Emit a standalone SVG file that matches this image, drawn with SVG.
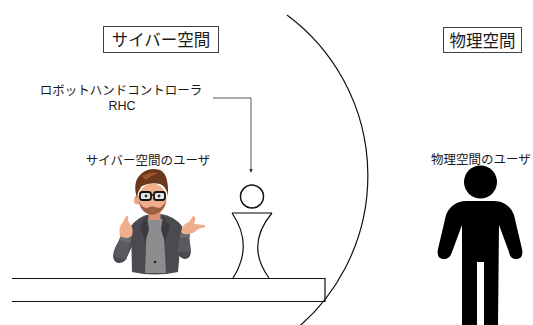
<svg xmlns="http://www.w3.org/2000/svg" width="533" height="325" viewBox="0 0 533 325">
  <defs>
    <marker id="arrow" viewBox="0 0 6 6" refX="5" refY="3" markerWidth="4" markerHeight="4" orient="auto">
      <path d="M0,0 L6,3 L0,6 Z" fill="#333"/>
    </marker>
  </defs>
  <style>
    .lbl { font-family: "Noto Sans CJK JP", "Liberation Sans", sans-serif; fill: #1a1a1a; text-anchor: middle; }
    .latin { font-family: "Liberation Sans", "Noto Sans CJK JP", sans-serif; }
    .big { font-size: 16.5px; }
    .small { font-size: 12.5px; }
    .frame { fill: #fff; stroke: #404040; stroke-width: 1; }
    .ln { fill: none; stroke: #111; stroke-width: 1.2; }
    .skin { fill: #efae8c; }
    .jacket { fill: #4a4a4f; }
  </style>
  <rect width="533" height="325" fill="#fff"/>

  <!-- boundary between the two spaces -->
  <g id="boundary">
    <path class="ln" d="M 287 15 A 200 200 0 0 1 290 334"/>
  </g>

  <!-- space titles -->
  <g id="cyber-space-title">
    <rect class="frame" x="103.5" y="26.5" width="115" height="26"/>
    <text class="lbl big" x="161" y="46">サイバー空間</text>
  </g>
  <g id="physical-space-title">
    <rect class="frame" x="443.5" y="27.5" width="78" height="25"/>
    <text class="lbl big" x="482.5" y="46.5">物理空間</text>
  </g>

  <!-- desk -->
  <g id="desk">
    <path class="ln" d="M 12 278.5 H 325 V 301.5 H 12"/>
  </g>

  <!-- robot hand controller -->
  <g id="rhc">
    <text class="lbl small" x="121" y="94.5">ロボットハンドコントローラ</text>
    <text class="lbl latin small" x="122" y="110">RHC</text>
    <circle cx="252" cy="196.5" r="11.5" fill="#fff" stroke="#111" stroke-width="1.5"/>
    <line x1="232" y1="213" x2="272" y2="213" stroke="#555" stroke-width="1.6"/>
    <path class="ln" d="M 232 213 Q 254 245 233 278"/>
    <path class="ln" d="M 272 213 Q 245 245 269 278"/>
  </g>

  <!-- cyber space user (avatar) -->
  <g id="cyber-user">
    <text class="lbl small" x="148" y="164.5">サイバー空間のユーザ</text>
    <!-- torso -->
    <path class="jacket" d="M 131 226 Q 139 216 150 214 L 161 214 Q 174 216 182 226 L 178 272 Q 155 277 132 272 Z"/>
    <path fill="#8d8d8f" d="M 147 219 L 163 219 L 166 273 L 145 273 Z"/>
    <path fill="#3b3b40" d="M 147 216 L 140 226 L 145 242 L 149 230 Z"/>
    <path fill="#3b3b40" d="M 163 216 L 170 226 L 165 242 L 161 230 Z"/>
    <circle cx="155" cy="262" r="1.3" fill="#222"/>
    <!-- left arm and hand -->
    <path class="jacket" d="M 133 225 Q 121 234 115 248 Q 110 260 118 263 Q 125 264 128 255 L 133 244 Z"/>
    <path fill="#5a5a60" d="M 113 256 L 120 238 L 131 241 L 126 260 Z"/>
    <path fill="#6b6b70" d="M 119 240 L 121 235 L 131 238 L 130 243 Z"/>
    <path class="skin" d="M 120 236 Q 118 226 123 222 L 126 216 Q 129 215 128 221 L 130 224 Q 134 228 132 236 Q 127 240 120 236 Z"/>
    <!-- right arm and hand -->
    <path class="jacket" d="M 179 224 Q 187 232 190 246 Q 193 258 185 259 Q 178 258 176 248 Z"/>
    <path fill="#5a5a60" d="M 177 252 L 180 236 L 189 234 L 191 252 Z"/>
    <path fill="#6b6b70" d="M 180 238 L 181 232 L 190 231 L 190 237 Z"/>
    <path class="skin" d="M 181 232 Q 182 224 189 222 L 193 216 Q 196 216 195 221 L 194 224 L 205 225 Q 206 228 201 228 L 197 230 Q 193 234 188 234 Q 183 235 181 232 Z"/>
    <!-- neck and head -->
    <rect x="148.5" y="206" width="12" height="14" fill="#d89173"/>
    <ellipse cx="137.5" cy="200" rx="3.5" ry="4.5" fill="#e8a383"/>
    <ellipse cx="152.5" cy="199" rx="14" ry="15.5" class="skin"/>
    <path fill="#8c4f32" opacity="0.85" d="M 139 200 Q 140 213 152 215 Q 165 213 166 200 Q 163 208 158 208 Q 152 205 147 208 Q 141 208 139 200 Z"/>
    <path fill="#c97a6a" d="M 149 209 Q 152 211 156 209 Q 153 212 149 209 Z"/>
    <!-- hair -->
    <path fill="#6b381d" d="M 137 198 Q 132 182 141 174 Q 149 167 160 170 Q 169 174 168 196 Q 166 186 160 184 Q 150 182 142 186 Q 138 190 137 198 Z"/>
    <path fill="#9b5530" d="M 142 176 Q 150 171 158 173 Q 152 175 146 180 Z"/>
    <!-- glasses -->
    <rect x="140" y="192" width="11" height="8" rx="2.5" fill="#dfeaf2" stroke="#141414" stroke-width="1.8"/>
    <rect x="154" y="192" width="11" height="8" rx="2.5" fill="#dfeaf2" stroke="#141414" stroke-width="1.8"/>
    <line x1="151" y1="195" x2="154" y2="195" stroke="#141414" stroke-width="1.5"/>
    <circle cx="146" cy="196" r="1.4" fill="#3a2a20"/>
    <circle cx="159" cy="196" r="1.4" fill="#3a2a20"/>
  </g>

  <!-- physical space user -->
  <g id="physical-user">
    <text class="lbl small" x="481" y="164">物理空間のユーザ</text>
    <circle cx="480.5" cy="182" r="16.5" fill="#000"/>
    <path fill="#000" d="M 467 201 H 494 C 504 201 511 207 514 215 L 522 249 Q 524 259 516 259 Q 510 259 509 252 L 499 225 L 498 325 H 484 V 262 H 477 V 325 H 462 L 462 225 L 452 252 Q 450 259 444 259 Q 436 259 438 249 L 446 215 C 449 207 456 201 467 201 Z"/>
  </g>

  <!-- connectors -->
  <g id="connectors">
    <polyline points="213,98 251,98 251,172" fill="none" stroke="#555" stroke-width="1" marker-end="url(#arrow)"/>
  </g>
</svg>
